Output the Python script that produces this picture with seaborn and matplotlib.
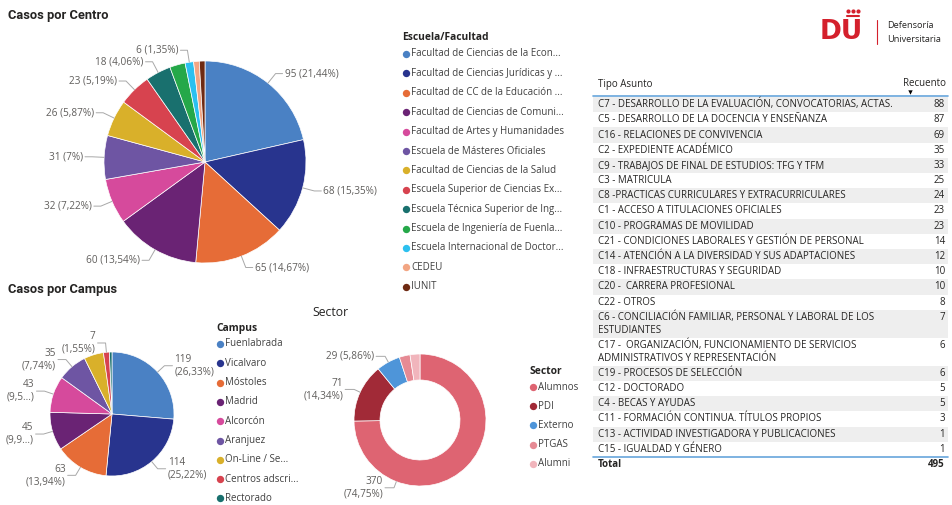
import numpy as np
import matplotlib
matplotlib.use("Agg")
import matplotlib.pyplot as plt
import seaborn as sns

W, H = 952, 505

# ---- data ----
centro_names = ["Facultad de Ciencias de la Econ...", "Facultad de Ciencias Jurídicas y ...",
                "Facultad de CC de la Educación ...", "Facultad de Ciencias de Comuni...",
                "Facultad de Artes y Humanidades", "Escuela de Másteres Oficiales",
                "Facultad de Ciencias de la Salud", "Escuela Superior de Ciencias Ex...",
                "Escuela Técnica Superior de Ing...", "Escuela de Ingeniería de Fuenla...",
                "Escuela Internacional de Doctor...", "CEDEU", "IUNIT"]
centro_values = [95, 68, 65, 60, 32, 31, 26, 23, 18, 11, 6, 4, 4]
centro_labeled = [1, 1, 1, 1, 1, 1, 1, 1, 1, 0, 1, 0, 0]

campus_names = ["Fuenlabrada", "Vicalvaro", "Móstoles", "Madrid", "Alcorcón", "Aranjuez",
                "On-Line / Se...", "Centros adscri...", "Rectorado"]
campus_values = [119, 114, 63, 45, 43, 35, 23, 7, 3]
campus_labeled = [1, 1, 1, 1, 1, 1, 0, 1, 0]
campus_cut = [0, 0, 0, 1, 1, 0, 0, 0, 0]

sector_names = ["Alumnos", "PDI", "Externo", "PTGAS", "Alumni"]
sector_values = [370, 71, 29, 13, 12]
sector_labeled = [1, 1, 1, 0, 0]
sector_two_line = [1, 1, 0, 0, 0]

asuntos = ["C7 - DESARROLLO DE LA EVALUACIÓN, CONVOCATORIAS, ACTAS.",
           "C5 - DESARROLLO DE LA DOCENCIA Y ENSEÑANZA",
           "C16 - RELACIONES DE CONVIVENCIA",
           "C2 - EXPEDIENTE ACADÉMICO",
           "C9 - TRABAJOS DE FINAL DE ESTUDIOS: TFG Y TFM",
           "C3 - MATRICULA",
           "C8 -PRACTICAS CURRICULARES Y EXTRACURRICULARES",
           "C1 - ACCESO A TITULACIONES OFICIALES",
           "C10 - PROGRAMAS DE MOVILIDAD",
           "C21 - CONDICIONES LABORALES Y GESTIÓN DE PERSONAL",
           "C14 - ATENCIÓN A LA DIVERSIDAD Y SUS ADAPTACIONES",
           "C18 - INFRAESTRUCTURAS Y SEGURIDAD",
           "C20 -  CARRERA PROFESIONAL",
           "C22 - OTROS",
           "C6 - CONCILIACIÓN FAMILIAR, PERSONAL Y LABORAL DE LOS\nESTUDIANTES",
           "C17 -  ORGANIZACIÓN, FUNCIONAMIENTO DE SERVICIOS\nADMINISTRATIVOS Y REPRESENTACIÓN",
           "C19 - PROCESOS DE SELECCIÓN",
           "C12 - DOCTORADO",
           "C4 - BECAS Y AYUDAS",
           "C11 - FORMACIÓN CONTINUA. TÍTULOS PROPIOS",
           "C13 - ACTIVIDAD INVESTIGADORA Y PUBLICACIONES",
           "C15 - IGUALDAD Y GÉNERO"]
recuento = [88, 87, 69, 35, 33, 25, 24, 23, 23, 14, 12, 10, 10, 8, 7, 6, 6, 5, 5, 3, 1, 1]

pal = sns.color_palette(["#4A81C4", "#28348E", "#E66C37", "#6A2374", "#D64A9C", "#6E55A3",
                         "#D9B02A", "#D7434F", "#19706E", "#25A849", "#2CC0EF", "#F2A583",
                         "#6E2A12"])
sector_pal = sns.color_palette(["#DE6472", "#A12A37", "#4E95D9", "#E68A94", "#F1B5BC"])

sns.set_theme(style="white")
plt.rcParams["font.family"] = ["Open Sans", "DejaVu Sans"]

LBL = "#605E5C"
TXT = "#252423"
FS_TAB = 7.0

fig = plt.figure(figsize=(W / 100, H / 100), dpi=100)
ax = fig.add_axes([0, 0, 1, 1])


def pct(v, total, cut=False):
    s = f"{100 * v / total:.2f}".rstrip("0").rstrip(".").replace(".", ",")
    if cut:
        s = s[:3] + "..."
        return s
    return s + "%"


def pie(cx, cy, r, values, colors, width=None):
    wp = dict(edgecolor="white", linewidth=0.5)
    if width:
        wp["width"] = width
    ax.pie(values, colors=colors, startangle=90, counterclock=False,
           center=(cx, H - cy), radius=r, wedgeprops=wp, frame=True)


def labels(cx, cy, r, values, texts, elbow=1.12, seg=7, fs=7.2, angle_over=None):
    total = sum(values)
    cum = 0
    for i, (v, t) in enumerate(zip(values, texts)):
        mid = (cum + v / 2) / total * 360
        cum += v
        if t is None:
            continue
        if angle_over and i in angle_over:
            mid = angle_over[i]
        a = np.radians(mid)
        sx, sy = np.sin(a), -np.cos(a)
        x0, y0 = cx + r * sx, cy + r * sy
        x1, y1 = cx + elbow * r * sx, cy + elbow * r * sy
        side = 1 if sx >= 0 else -1
        x2 = x1 + side * seg
        ax.plot([x0, x1, x2], [H - y0, H - y1, H - y1], color="#A8A8A8", lw=0.7)
        ax.text(x2 + side * 2, H - y1, t, ha="left" if side > 0 else "right", va="center",
                fontsize=fs, color=LBL, linespacing=1.2)


def legend(x, y, title, names, colors, step=19.3):
    ax.text(x - 4, H - y, title, fontsize=7.4, fontweight="bold", color=TXT, va="center")
    for i, (n, c) in enumerate(zip(names, colors)):
        yy = H - (y + 16 + i * step)
        ax.scatter([x], [yy], s=28, color=c, linewidths=0)
        ax.text(x + 5, yy, n, fontsize=7.05, color="#404040", va="center")


# ---- titles ----
tfont = dict(family=["Roboto", "DejaVu Sans"], fontweight="bold", color=TXT, fontsize=9.3)
ax.text(8, H - 15, "Casos por Centro", va="center", **tfont)
ax.text(8, H - 290, "Casos por Campus", va="center", **tfont)
ax.text(312, H - 312, "Sector", va="center", fontsize=8.8, color=TXT)

# ---- Casos por Centro ----
pie(205, 162, 101, centro_values, pal)
t = sum(centro_values)
labels(205, 162, 101, centro_values,
       [f"{v} ({pct(v, t)})" if s else None for v, s in zip(centro_values, centro_labeled)])
legend(406, 38, "Escuela/Facultad", centro_names, pal, step=19.4)

# ---- Casos por Campus ----
pie(112, 414, 62, campus_values, pal[:9])
t = sum(campus_values)
labels(112, 414, 62, campus_values,
       [f"{v}\n({pct(v, t, c)})" if s else None
        for v, s, c in zip(campus_values, campus_labeled, campus_cut)],
       elbow=1.15, seg=8)
legend(220, 328, "Campus", campus_names, pal[:9], step=19.3)

# ---- Sector donut ----
pie(420, 420, 66, sector_values, sector_pal, width=26)
t = sum(sector_values)
labels(420, 420, 66, sector_values,
       [(f"{v}\n({pct(v, t)})" if tl else f"{v} ({pct(v, t)})") if s else None
        for v, s, tl in zip(sector_values, sector_labeled, sector_two_line)],
       elbow=1.1, seg=9, angle_over={0: 201})
legend(533, 371, "Sector", sector_names, sector_pal, step=19.2)

# ---- logo ----
ax.text(820, H - 32, "DU", fontsize=19, fontweight="bold", color="#D4202C",
        family=["DejaVu Sans"], va="center")
for dx in (-5, 0, 5):
    ax.scatter([853 + dx], [H - 11], s=9, color="#D4202C", linewidths=0)
ax.plot([847, 859], [H - 16, H - 16], color="#D4202C", lw=1.5)
ax.plot([877, 877], [H - 20, H - 44], color="#D4202C", lw=0.8)
ax.text(887, H - 26, "Defensoría", fontsize=6.6, color=TXT, va="center")
ax.text(887, H - 39, "Universitaria", fontsize=6.6, color=TXT, va="center")

# ---- table ----
x0, x1 = 593, 948
ax.text(598, H - 84, "Tipo Asunto", fontsize=FS_TAB, color=TXT, va="center")
ax.text(946, H - 84, "Recuento", fontsize=FS_TAB, color=TXT, va="center", ha="right")
ax.scatter([910], [H - 91.5], marker="v", s=10, color="black", linewidths=0)
ax.plot([x0, x1], [H - 96, H - 96], color="#67A6DC", lw=1.2)
y = 97
for i, (a, v) in enumerate(zip(asuntos, recuento)):
    n = a.count("\n") + 1
    h = 15.2 + 12.8 * (n - 1)
    if i % 2 == 0:
        ax.fill_between([x0, x1], H - y, H - (y + h), color="#EEEEEE", lw=0)
    for k, line in enumerate(a.split("\n")):
        ax.text(598, H - (y + 7.6 + 13 * k), line, fontsize=FS_TAB, color=TXT, va="center")
    ax.text(945, H - (y + 7.6), str(v), fontsize=FS_TAB, color=TXT, va="center", ha="right")
    y += h
ax.plot([x0, x1], [H - y, H - y], color="#67A6DC", lw=1.2)
ax.text(598, H - (y + 8), "Total", fontsize=FS_TAB, fontweight="bold", color=TXT, va="center")
ax.text(945, H - (y + 8), str(sum(recuento)), fontsize=FS_TAB, fontweight="bold", color=TXT,
        va="center", ha="right")

ax.set_xlim(0, W)
ax.set_ylim(0, H)
ax.set_aspect("auto")
ax.axis("off")
fig.savefig("out.png", dpi=100)
